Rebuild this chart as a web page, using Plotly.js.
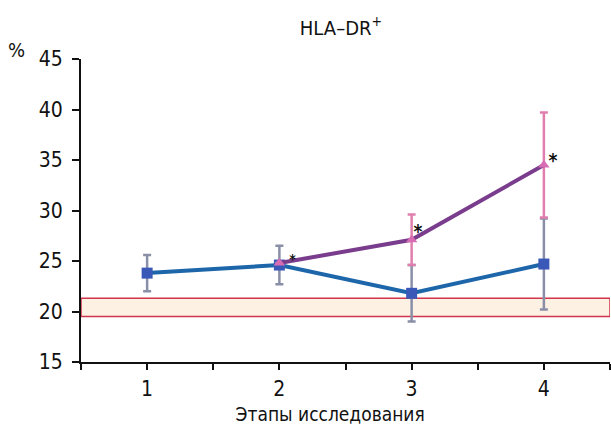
<!DOCTYPE html>
<html>
<head>
<meta charset="utf-8">
<script src="https://cdn.plot.ly/plotly-3.0.1.min.js"></script>
<style>
html,body{margin:0;padding:0;background:#fff;}
#chart{width:611px;height:427px;}
#chart svg text{font-stretch:condensed !important;}
</style>
</head>
<body>
<div id="chart"></div>
<script>
// Data
const stages = [1, 2, 3, 4];
const tickLabels = ['1', '2', '3', '4'];
const groupA = [23.8, 24.6, 21.8, 24.7];        // blue, squares
const groupAErr = [1.8, 1.9, 2.8, 4.5];
const stagesB = [2, 3, 4];
const groupB = [24.8, 27.1, 34.5];              // purple, triangles
const groupBErr = [0, 2.5, 5.2];
const starStages = [2, 3, 4];
const normLow = 19.5;
const normHigh = 21.3;

// styling for the asterisks (pixel offsets / sizes)
const starStyle = [
  {dx: 8, dy: -6, size: 14},
  {dx: -1, dy: -4, size: 19},
  {dx: 2, dy: -8, size: 19}
];

const FONT = '"DejaVu Sans", sans-serif';
const FS = 21;

const traces = [
  {
    x: stages, y: groupA, type: 'scatter', mode: 'lines+markers',
    line: {color: '#1d66aa', width: 4},
    marker: {symbol: 'square', size: 11, color: '#3a58b8'},
    error_y: {type: 'data', array: groupAErr, visible: true, color: '#8a8fa8', thickness: 2.5, width: 4},
    hoverinfo: 'none', showlegend: false
  },
  {
    x: stagesB, y: groupB, type: 'scatter', mode: 'lines+markers',
    line: {color: '#7a3c8c', width: 4},
    marker: {symbol: 'triangle-up', size: 10, color: '#d86cb4'},
    error_y: {type: 'data', array: groupBErr, visible: true, color: '#e07fae', thickness: 2.5, width: 4},
    hoverinfo: 'none', showlegend: false
  }
];

const annotations = starStages.map((s, i) => ({
  x: s, y: groupB[stagesB.indexOf(s)], xref: 'x', yref: 'y',
  text: '*', showarrow: false, xanchor: 'left', yanchor: 'bottom',
  xshift: starStyle[i].dx, yshift: starStyle[i].dy,
  font: {family: FONT, size: starStyle[i].size, color: '#111', weight: 'bold'}
}));
annotations.push({
  xref: 'paper', yref: 'paper', x: -0.143, y: 1.03, xanchor: 'left', yanchor: 'middle',
  text: '%', showarrow: false, font: {family: FONT, size: 20, color: '#111'}
});
annotations.push({
  xref: 'paper', yref: 'paper', x: 0.471, y: -0.173, xanchor: 'center', yanchor: 'middle',
  text: 'Этапы исследования', showarrow: false, font: {family: FONT, size: 19, color: '#111'}
});

const layout = {
  width: 611, height: 427,
  margin: {l: 81, r: 1, t: 59, b: 65},
  paper_bgcolor: '#ffffff', plot_bgcolor: '#ffffff',
  font: {family: FONT, size: FS, color: '#111'},
  title: {text: 'HLA–DR<sup>+</sup>', x: 0.558, xanchor: 'center', y: 0.935, yanchor: 'middle',
          font: {family: FONT, size: 20, color: '#111'}},
  xaxis: {
    range: [0.5, 4.5], showgrid: false, zeroline: false,
    showline: true, linecolor: '#111', linewidth: 2,
    tickmode: 'array', tickvals: stages, ticktext: tickLabels,
    ticks: 'outside', ticklen: 6, tickwidth: 2, tickcolor: '#111',
    minor: {tickmode: 'linear', tick0: 0.5, dtick: 0.5, ticks: 'outside', ticklen: 6, tickwidth: 2, tickcolor: '#111'},
    tickfont: {family: FONT, size: FS, color: '#111'},
    ticklabelstandoff: 1
  },
  yaxis: {
    range: [15, 45], showgrid: false, zeroline: false,
    showline: true, linecolor: '#111', linewidth: 2,
    tickmode: 'linear', tick0: 15, dtick: 5,
    ticks: 'outside', ticklen: 7, tickwidth: 2, tickcolor: '#111',
    tickfont: {family: FONT, size: FS, color: '#111'},
    ticklabelstandoff: 5
  },
  shapes: [{
    type: 'rect', xref: 'x', yref: 'y', x0: 0.5, x1: 4.5, y0: normLow, y1: normHigh,
    fillcolor: '#fdf1e4', line: {color: '#d0364a', width: 1.5}, layer: 'below'
  }],
  annotations: annotations
};

Plotly.newPlot('chart', traces, layout, {displayModeBar: false, staticPlot: true});
</script>
</body>
</html>
